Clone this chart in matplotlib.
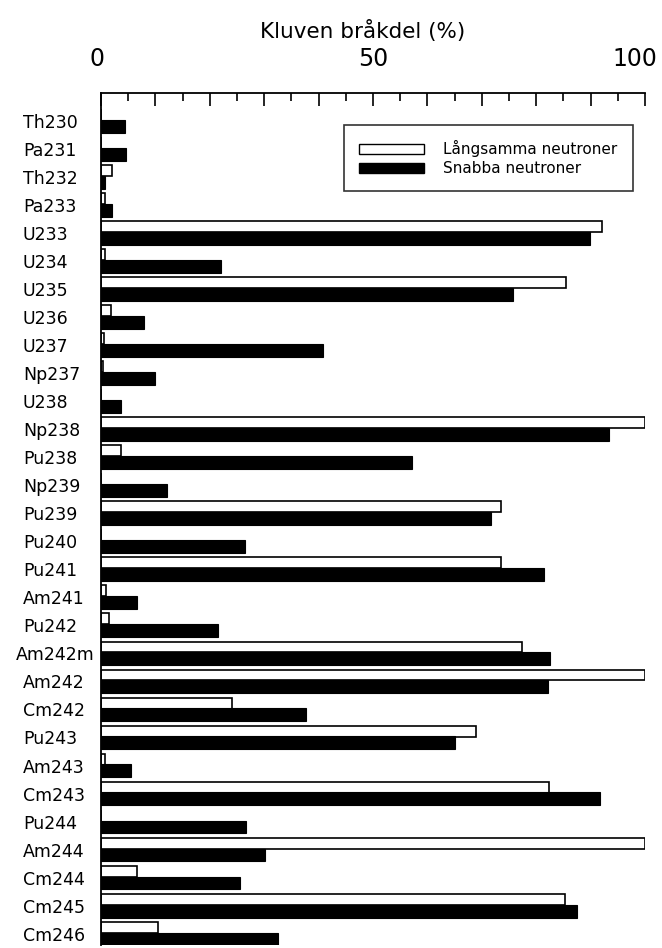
import matplotlib
matplotlib.use('Agg')
import matplotlib.pyplot as plt
import matplotlib.transforms as mtransforms
from matplotlib.patches import Patch
import numpy as np

plt.rcParams['font.family'] = ['DejaVu Sans']

nuklider = ['Th230', 'Pa231', 'Th232', 'Pa233', 'U233', 'U234', 'U235', 'U236',
            'U237', 'Np237', 'U238', 'Np238', 'Pu238', 'Np239', 'Pu239', 'Pu240',
            'Pu241', 'Am241', 'Pu242', 'Am242m', 'Am242', 'Cm242', 'Pu243', 'Am243',
            'Cm243', 'Pu244', 'Am244', 'Cm244', 'Cm245', 'Cm246']

# kluven andel med langsamma (termiska) neutroner, %
langsamma = [0.0, 0.0, 2.0, 0.7, 92.1, 0.7, 85.5, 1.8,
             0.5, 0.3, 0.0, 100.0, 3.6, 0.0, 73.6, 0.0,
             73.6, 0.9, 1.4, 77.4, 100.0, 24.1, 69.0, 0.8,
             82.4, 0.0, 100.0, 6.7, 85.3, 10.5]

# kluven andel med snabba neutroner, %
snabba = [4.4, 4.6, 0.7, 2.0, 89.8, 22.1, 75.8, 7.9,
          40.9, 9.9, 3.6, 93.4, 57.2, 12.1, 71.7, 26.4,
          81.4, 6.6, 21.5, 82.6, 82.2, 37.7, 65.1, 5.5,
          91.7, 26.6, 30.2, 25.6, 87.5, 32.6]

W, H = 662, 948
fig = plt.figure(figsize=(W / 100, H / 100), dpi=100)
ax = fig.add_axes([101 / W, 3 / H, 544 / W, 852 / H])

y = np.arange(len(nuklider))
ax.barh(y - 0.2, langsamma, height=0.39, color='white', edgecolor='black', linewidth=1.2)
ax.barh(y + 0.22, snabba, height=0.46, color='black', edgecolor='black', linewidth=0.8)

ax.set_xlim(0, 100)
ax.set_ylim(29.43, -0.96)

for s in ['right', 'bottom']:
    ax.spines[s].set_visible(False)
for s in ['top', 'left']:
    ax.spines[s].set_linewidth(1.3)

# x-axel overst, langa streck var 10:e procent, korta daremellan
ax.xaxis.tick_top()
ax.set_xticks(np.arange(0, 101, 10))
ax.set_xticklabels(['0', '', '', '', '', '50', '', '', '', '', '100'])
ax.set_xticks(np.arange(5, 100, 10), minor=True)
ax.tick_params(axis='x', which='major', direction='in', length=9, width=1.2, labelsize=17, pad=16)
ax.tick_params(axis='x', which='minor', direction='in', length=6, width=1.2)
lbls = ax.get_xticklabels()
lbls[0].set_transform(lbls[0].get_transform() + mtransforms.ScaledTranslation(-4 / 100, 0, fig.dpi_scale_trans))
lbls[-1].set_transform(lbls[-1].get_transform() + mtransforms.ScaledTranslation(-10 / 100, 0, fig.dpi_scale_trans))

fig.text(363 / W, 1 - 31 / H, 'Kluven bråkdel (%)', ha='center', va='center', fontsize=15.5)

# nuklidnamn, vansterjusterade men aldrig over axeln
ax.set_yticks([])
blend = mtransforms.blended_transform_factory(fig.transFigure, ax.transData)
renderer = fig.canvas.get_renderer()
for i, n in enumerate(nuklider):
    t = ax.text(23 / W, i + 0.1, n, transform=blend, ha='left', va='center', fontsize=12.5)
    w = t.get_window_extent(renderer).width
    if 23 + w > 95:
        t.set_x((95 - w) / W)

handles = [Patch(facecolor='white', edgecolor='black', linewidth=1.0, label='Långsamma neutroner'),
           Patch(facecolor='black', edgecolor='black', label='Snabba neutroner')]
leg = fig.legend(handles=handles, loc='upper right', bbox_to_anchor=(633 / W, 1 - 125 / H),
                 fontsize=11, frameon=True, fancybox=False, borderpad=1.0,
                 handlelength=4.2, handleheight=0.6, handletextpad=1.3, labelspacing=0.25,
                 borderaxespad=0)
leg.get_frame().set_edgecolor('black')
leg.get_frame().set_linewidth(1.2)

fig.savefig('out.png', dpi=100)
